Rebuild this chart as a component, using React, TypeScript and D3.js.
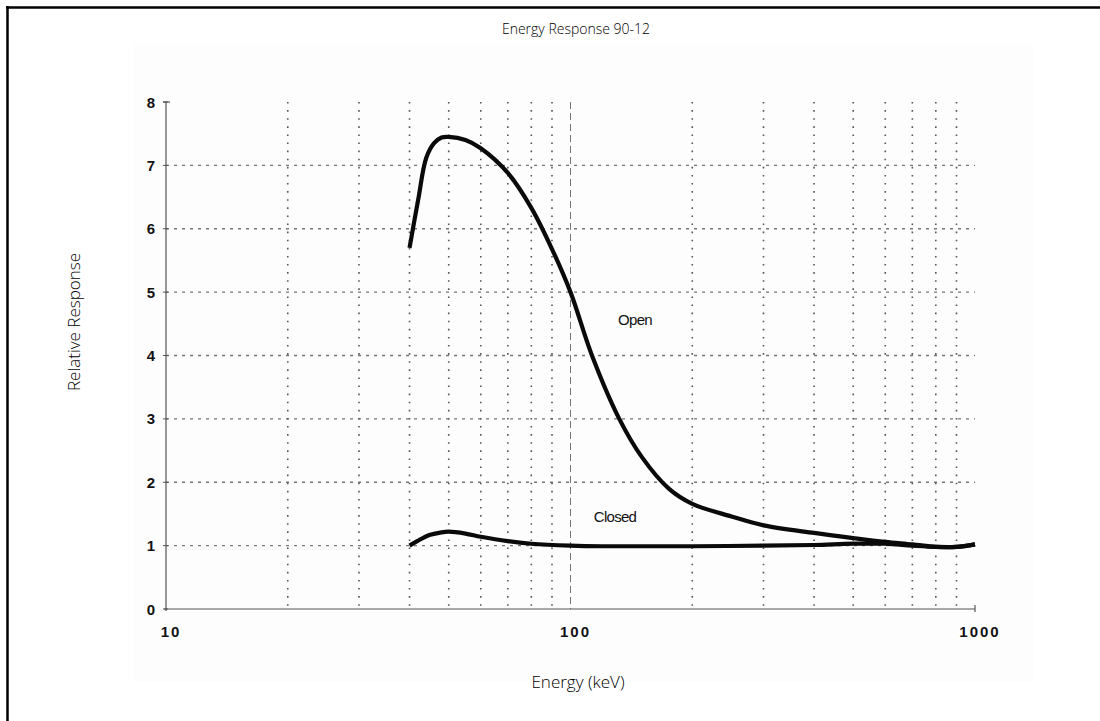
import React, { useEffect, useRef } from "react";
import * as d3 from "d3";

const TITLE = "Energy Response 90-12";
const X_LABEL = "Energy (keV)";
const Y_LABEL = "Relative Response";

const OPEN_E = [40, 42, 44, 46, 48, 50, 55, 60, 70, 80, 90, 100, 113, 132, 150, 175, 200, 250, 300, 400, 500, 600, 700, 800, 900, 1000];
const OPEN_R = [5.7, 6.45, 7.12, 7.35, 7.44, 7.45, 7.4, 7.27, 6.88, 6.33, 5.68, 5.0, 4.0, 3.0, 2.4, 1.9, 1.66, 1.46, 1.32, 1.2, 1.12, 1.06, 1.02, 0.98, 0.98, 1.02];

const CLOSED_E = [40, 42, 45, 48, 50, 55, 60, 70, 80, 100, 120, 150, 200, 300, 400, 500, 600, 700, 800, 900, 1000];
const CLOSED_R = [1.0, 1.08, 1.17, 1.21, 1.22, 1.19, 1.14, 1.07, 1.03, 1.0, 0.99, 0.99, 0.99, 1.0, 1.01, 1.03, 1.03, 1.0, 0.98, 0.98, 1.02];

const Y_TICKS = [0, 1, 2, 3, 4, 5, 6, 7, 8];
const X_TICKS = [10, 100, 1000];
const V_GRID = [20, 30, 40, 50, 60, 70, 80, 90, 200, 300, 400, 500, 600, 700, 800, 900];

const W = 1100;
const H = 721;

export default function App() {
  const ref = useRef<SVGSVGElement | null>(null);

  useEffect(() => {
    const svg = d3.select(ref.current);
    svg.selectAll("*").remove();

    const left = 166, right = 975, top = 102, bottom = 609;
    const x = d3.scaleLog().domain([10, 1000]).range([left, right]);
    const y = d3.scaleLinear().domain([0, 8]).range([bottom, top]);

    // outer frame (only top and left edges fall inside the page)
    svg.append("line").attr("x1", 6).attr("x2", W).attr("y1", 7.5).attr("y2", 7.5)
      .attr("stroke", "#000").attr("stroke-width", 2.5);
    svg.append("line").attr("x1", 7.5).attr("x2", 7.5).attr("y1", 6).attr("y2", H)
      .attr("stroke", "#000").attr("stroke-width", 2.5);

    // faint scanned paper
    svg.append("rect")
      .attr("x", 133).attr("y", 45).attr("width", 900).attr("height", 637)
      .attr("fill", "#fdfdfd");

    // grid
    svg.append("g").selectAll("line").data(Y_TICKS.filter(d => d > 0 && d < 8)).join("line")
      .attr("x1", left).attr("x2", right)
      .attr("y1", d => y(d)).attr("y2", d => y(d))
      .attr("stroke", "#777").attr("stroke-width", 1.3)
      .attr("stroke-dasharray", "3 5");

    svg.append("g").selectAll("line").data(V_GRID).join("line")
      .attr("x1", d => x(d)).attr("x2", d => x(d))
      .attr("y1", top).attr("y2", bottom)
      .attr("stroke", "#555").attr("stroke-width", 1.6)
      .attr("stroke-dasharray", "1.6 6.5");

    svg.append("line")
      .attr("x1", x(100)).attr("x2", x(100))
      .attr("y1", top).attr("y2", bottom)
      .attr("stroke", "#777").attr("stroke-width", 1)
      .attr("stroke-dasharray", "7 4");

    // axes
    svg.append("line")
      .attr("x1", left).attr("x2", left).attr("y1", top).attr("y2", bottom + 2)
      .attr("stroke", "#555").attr("stroke-width", 1.2);
    svg.append("line")
      .attr("x1", left - 3).attr("x2", left + 4).attr("y1", top).attr("y2", top)
      .attr("stroke", "#555").attr("stroke-width", 1.2);
    svg.append("line")
      .attr("x1", left - 2).attr("x2", right).attr("y1", bottom).attr("y2", bottom)
      .attr("stroke", "#555").attr("stroke-width", 1.2);
    svg.append("line")
      .attr("x1", right).attr("x2", right).attr("y1", bottom - 4).attr("y2", bottom + 3)
      .attr("stroke", "#555").attr("stroke-width", 1.2);

    svg.append("g").selectAll("line").data(Y_TICKS).join("line")
      .attr("x1", left - 3).attr("x2", left + 2)
      .attr("y1", d => y(d)).attr("y2", d => y(d))
      .attr("stroke", "#555").attr("stroke-width", 1);

    // tick labels
    svg.append("g").selectAll("text").data(Y_TICKS).join("text")
      .attr("x", left - 11).attr("y", d => y(d) + 5.5)
      .attr("text-anchor", "end")
      .attr("font-family", "Liberation Sans, Arial, sans-serif")
      .attr("font-weight", "bold").attr("font-size", 15).attr("fill", "#111")
      .text(d => d);

    svg.append("g").selectAll("text").data(X_TICKS).join("text")
      .attr("x", d => x(d) + 5).attr("y", 637)
      .attr("text-anchor", "middle")
      .attr("font-family", "Liberation Sans, Arial, sans-serif")
      .attr("font-weight", "bold").attr("font-size", 15).attr("fill", "#111")
      .attr("letter-spacing", 2)
      .text(d => d);

    // curves
    const line = d3.line<[number, number]>()
      .x(d => x(d[0])).y(d => y(d[1]))
      .curve(d3.curveCatmullRom.alpha(0.5));

    svg.append("path")
      .datum(OPEN_E.map((e, i) => [e, OPEN_R[i]] as [number, number]))
      .attr("d", line).attr("fill", "none")
      .attr("stroke", "#0a0a0a").attr("stroke-width", 4.2).attr("stroke-linejoin", "round");

    svg.append("path")
      .datum(CLOSED_E.map((e, i) => [e, CLOSED_R[i]] as [number, number]))
      .attr("d", line).attr("fill", "none")
      .attr("stroke", "#0a0a0a").attr("stroke-width", 4.2).attr("stroke-linejoin", "round");

    // curve labels
    svg.append("text")
      .attr("x", 635).attr("y", 325).attr("text-anchor", "middle")
      .attr("font-family", "Liberation Sans, Arial, sans-serif")
      .attr("font-size", 15).attr("letter-spacing", -0.7).attr("fill", "#111")
      .text("Open");
    svg.append("text")
      .attr("x", 615).attr("y", 522).attr("text-anchor", "middle")
      .attr("font-family", "Liberation Sans, Arial, sans-serif")
      .attr("font-size", 15).attr("letter-spacing", -0.7).attr("fill", "#111")
      .text("Closed");

    // titles
    svg.append("text")
      .attr("x", 576).attr("y", 34).attr("text-anchor", "middle")
      .attr("font-family", "Open Sans, sans-serif").attr("font-weight", 300)
      .attr("font-size", 14).attr("fill", "#000")
      .text(TITLE);
    svg.append("text")
      .attr("x", 578).attr("y", 688).attr("text-anchor", "middle")
      .attr("font-family", "Open Sans, sans-serif").attr("font-weight", 300)
      .attr("font-size", 17).attr("fill", "#000")
      .text(X_LABEL);
    svg.append("text")
      .attr("transform", "translate(80,322) rotate(-90)").attr("text-anchor", "middle")
      .attr("font-family", "Open Sans, sans-serif").attr("font-weight", 300)
      .attr("font-size", 17).attr("fill", "#000")
      .text(Y_LABEL);
  }, []);

  return (
    <div style={{ position: "absolute", left: 0, top: 0, width: W, height: H, background: "#fff" }}>
      <svg ref={ref} width={W} height={H} style={{ display: "block" }} />
    </div>
  );
}
